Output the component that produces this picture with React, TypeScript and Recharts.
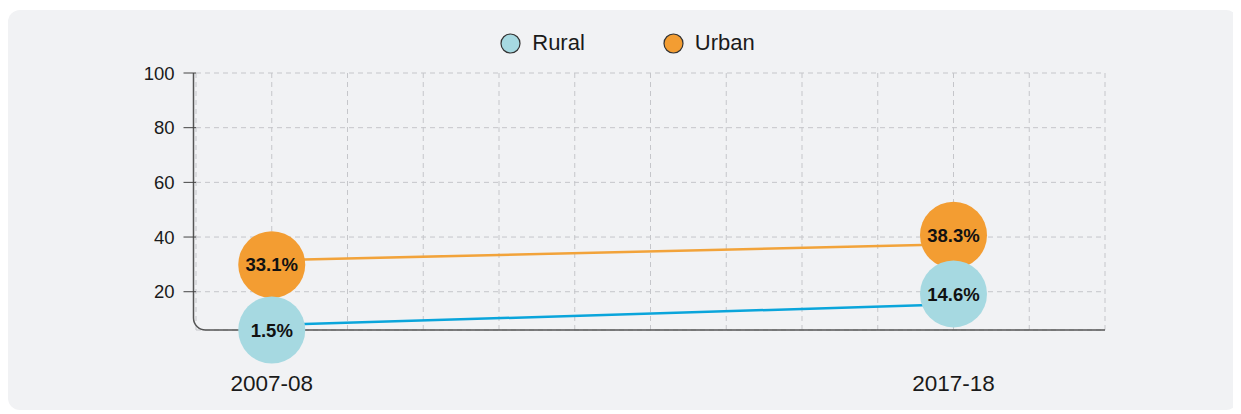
import {
  CartesianGrid,
  ComposedChart,
  Legend,
  Line,
  XAxis,
  YAxis,
} from 'recharts';

const periods = ['2007-08', '2017-18'];
const periodPos = [1, 10];
const ruralShare = [1.5, 14.6];
const urbanShare = [33.1, 38.3];
// where the drawn lines and bubbles sit on the y scale
const ruralLineLevel = [7.8, 15.4];
const urbanLineLevel = [31.5, 37.4];
const ruralBubbleLevel = [6, 19.2];
const urbanBubbleLevel = [29.9, 40.7];
const yTicks = [20, 40, 60, 80, 100];
const gridX = [1, 2, 3, 4, 5, 6, 7, 8, 9, 10, 11, 12];

const W = 1230;
const H = 400;
const M = { top: 63, right: 133, bottom: 0, left: 0 };
const Y_W = 188;
const X_H = 80;
const FONT = '"Liberation Sans", Arial, Helvetica, sans-serif';

const RURAL_DOT = '#a6d9e1';
const RURAL_LINE = '#0aa5db';
const URBAN_DOT = '#f39d32';
const URBAN_LINE = '#f2a33a';

const rows = periods.map((p, i) => ({
  x: periodPos[i],
  label: p,
  ruralLine: ruralLineLevel[i],
  urbanLine: urbanLineLevel[i],
  ruralBubble: ruralBubbleLevel[i],
  urbanBubble: urbanBubbleLevel[i],
}));

const bubble = (fill: string, values: number[]) => (props: any) => {
  const { cx, cy, index } = props;
  return (
    <g key={`b-${fill}-${index}`}>
      <circle cx={cx} cy={cy} r={33.5} fill={fill} />
      <text
        x={cx}
        y={cy}
        dy="0.36em"
        textAnchor="middle"
        fontFamily={FONT}
        fontSize={18.5}
        fontWeight={700}
        fill="#111"
      >
        {values[index]}%
      </text>
    </g>
  );
};

const LegendBox = () => (
  <div
    style={{
      display: 'flex',
      justifyContent: 'center',
      alignItems: 'center',
      gap: 78,
      paddingLeft: 9,
      fontFamily: FONT,
      fontSize: 22,
      color: '#1a1a1a',
    }}
  >
    {[
      { name: 'Rural', color: RURAL_DOT },
      { name: 'Urban', color: URBAN_DOT },
    ].map((it) => (
      <div key={it.name} style={{ display: 'flex', alignItems: 'center', gap: 11 }}>
        <svg width={21} height={21}>
          <circle cx={10.5} cy={10.5} r={9.5} fill={it.color} stroke="#333" strokeWidth={1.2} />
        </svg>
        <span>{it.name}</span>
      </div>
    ))}
  </div>
);

function AxisFrame() {
  const x0 = M.left + Y_W - 2.5;
  const y0 = M.top;
  const yb = H - M.bottom - X_H;
  const xr = W - M.right;
  const r = 12;
  return (
    <path
      d={`M${x0},${y0} L${x0},${yb - r} A${r},${r} 0 0 0 ${x0 + r},${yb} L${xr},${yb}`}
      fill="none"
      stroke="#555"
      strokeWidth={1.5}
    />
  );
}

export default function App() {
  return (
    <div
      style={{
        width: W,
        height: H,
        marginTop: 2,
        background: '#f1f2f4',
        borderRadius: 12,
      }}
    >
      <ComposedChart width={W} height={H} data={rows} margin={M}>
        <CartesianGrid stroke="#c5c6ca" strokeDasharray="5 4" />
        <XAxis
          dataKey="x"
          type="number"
          domain={[0, 12]}
          ticks={gridX}
          axisLine={false}
          tickLine={false}
          tickSize={0}
          tickMargin={45}
          height={X_H}
          interval={0}
          tickFormatter={(v: number) => {
            const i = periodPos.indexOf(v);
            return i >= 0 ? periods[i] : '';
          }}
          tick={{ fill: '#1a1a1a', fontSize: 22.5, fontFamily: FONT }}
        />
        <YAxis
          type="number"
          domain={[6, 100]}
          ticks={yTicks}
          width={Y_W}
          axisLine={false}
          tickSize={12.5}
          tickMargin={9}
          tickLine={{ stroke: '#444' }}
          tick={{ fill: '#1a1a1a', fontSize: 18.5, fontFamily: FONT }}
        />
        <Legend
          verticalAlign="middle"
          align="center"
          layout="horizontal"
          wrapperStyle={{ top: 20, left: 0, width: W }}
          content={() => <LegendBox />}
        />
        <AxisFrame />
        <Line
          dataKey="urbanLine"
          stroke={URBAN_LINE}
          strokeWidth={2.5}
          dot={false}
          activeDot={false}
          isAnimationActive={false}
          legendType="none"
        />
        <Line
          dataKey="ruralLine"
          stroke={RURAL_LINE}
          strokeWidth={2.5}
          dot={false}
          activeDot={false}
          isAnimationActive={false}
          legendType="none"
        />
        <Line
          dataKey="urbanBubble"
          stroke="none"
          dot={bubble(URBAN_DOT, urbanShare)}
          activeDot={false}
          isAnimationActive={false}
          legendType="none"
        />
        <Line
          dataKey="ruralBubble"
          stroke="none"
          dot={bubble(RURAL_DOT, ruralShare)}
          activeDot={false}
          isAnimationActive={false}
          legendType="none"
        />
      </ComposedChart>
    </div>
  );
}
